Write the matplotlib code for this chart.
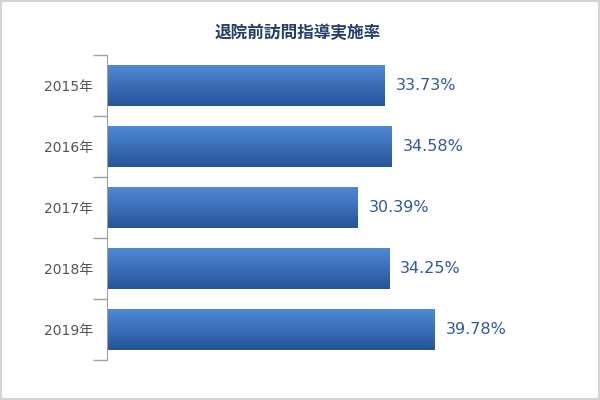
import numpy as np
import matplotlib
matplotlib.use("Agg")
import matplotlib.pyplot as plt
from matplotlib.patches import Rectangle

plt.rcParams['font.family'] = ['DejaVu Sans', 'Noto Sans CJK JP']

title = "退院前訪問指導実施率"
years = ["2015年", "2016年", "2017年", "2018年", "2019年"]
rates = [33.73, 34.58, 30.39, 34.25, 39.78]

fig = plt.figure(figsize=(6, 4), dpi=100)
# light gray frame around the picture
fig.patches.append(Rectangle((0, 0), 1, 1, transform=fig.transFigure,
                             fill=False, edgecolor="#d4d4d4", linewidth=3))

ax = fig.add_axes([107/600, 0.1, (560-107)/600, 0.7625])
y = np.arange(len(years))
bars = ax.barh(y, rates, height=0.656, color="none", edgecolor="none")

# vertical gradient in each bar (light top, dark bottom)
grad = np.linspace(0, 1, 100).reshape(-1, 1)
cmap = matplotlib.colors.LinearSegmentedColormap.from_list("g", ["#5089d4", "#27539a"])
for b in bars:
    x0, y0 = b.get_x(), b.get_y()
    w, h = b.get_width(), b.get_height()
    im = ax.imshow(grad, cmap=cmap, aspect="auto",
                   extent=[x0, x0 + w, y0 + h, y0], zorder=2)
    im.set_clip_path(b)

for i, v in enumerate(rates):
    ax.annotate(f"{v:.2f}%", (v, i), xytext=(8, 0), textcoords="offset points",
                va="center", ha="left", fontsize=11.5, color="#2f5a9e")

ax.set_xlim(0, 55)
ax.set_ylim(4.5, -0.5)

ax.set_yticks(y)
ax.set_yticklabels(years, fontsize=10, color="#555555")
ax.tick_params(axis="y", which="major", length=0, pad=10)
ax.set_yticks(np.arange(-0.5, 5, 1), minor=True)
ax.tick_params(axis="y", which="minor", length=10, color="#a0a0a0", width=1)
ax.set_xticks([])

for s in ["top", "right", "bottom"]:
    ax.spines[s].set_visible(False)
ax.spines["left"].set_color("#a0a0a0")

fig.text(298/600, 1 - 33/400, title, ha="center", va="center",
         fontsize=12, fontweight="bold", color="#243f6b",
         family=['Noto Sans CJK JP', 'DejaVu Sans'])

fig.savefig("out.png", dpi=100)
